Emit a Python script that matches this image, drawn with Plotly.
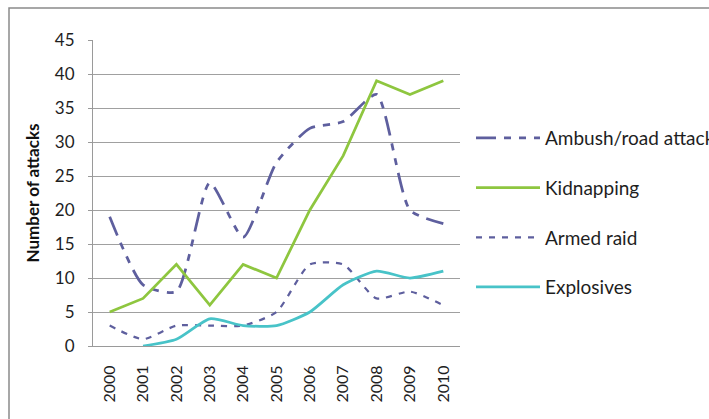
import plotly.graph_objects as go

years = ["2000", "2001", "2002", "2003", "2004", "2005", "2006", "2007", "2008", "2009", "2010"]
ambush = [19, 9, 8, 24, 16, 27, 32, 33, 37, 20, 18]
kidnapping = [5, 7, 12, 6, 12, 10, 20, 28, 39, 37, 39]
armed_raid = [3, 1, 3, 3, 3, 5, 12, 12, 7, 8, 6]
explosives = [None, 0, 1, 4, 3, 3, 5, 9, 11, 10, 11]
y_ticks = [0, 5, 10, 15, 20, 25, 30, 35, 40, 45]

FONT = "Lato"
fig = go.Figure()
fig.add_trace(go.Scatter(x=years, y=ambush, name="Ambush/road attack", mode="lines",
                         line=dict(color="#5E5F9E", width=2.75, dash="20px,8px,7px,8px,7px,8px",
                                   shape="spline", smoothing=0.6),
                         legendgroup="a"))
fig.add_trace(go.Scatter(x=years, y=kidnapping, name="Kidnapping", mode="lines",
                         line=dict(color="#8EC63F", width=2.75), legendgroup="b"))
fig.add_trace(go.Scatter(x=years, y=armed_raid, name="Armed raid", mode="lines",
                         line=dict(color="#5E5F9E", width=2.25, dash="6px,7px",
                                   shape="spline", smoothing=0.6),
                         legendgroup="c"))
fig.add_trace(go.Scatter(x=years, y=explosives, name="Explosives", mode="lines",
                         line=dict(color="#48C3C8", width=2.75, shape="spline", smoothing=0.6),
                         legendgroup="d"))

L, R, T, B = 93, 460, 40, 346
W, H = 709, 419
pw, ph = R - L, B - T

def px(x):
    return (x - L) / pw

def py(y):
    return (B - y) / ph

fig.update_layout(
    width=W, height=H,
    margin=dict(l=L, r=W - R, t=T, b=H - B, autoexpand=False),
    paper_bgcolor="white", plot_bgcolor="white",
    font=dict(family=FONT, size=16, color="#1E1E1E"),
    showlegend=True,
    legend=dict(x=px(471), y=py(119), xanchor="left", yanchor="top",
                font=dict(family=FONT, size=19, color="#1E1E1E"),
                tracegroupgap=22, itemwidth=64, bgcolor="rgba(0,0,0,0)"),
    xaxis=dict(type="category", showgrid=False, tickangle=-90, automargin=False,
               showline=True, linecolor="#9A9A9A", linewidth=1,
               ticks="", range=[-0.5, 10.5], ticklabelstandoff=12,
               tickfont=dict(family=FONT, size=16, color="#1E1E1E")),
    yaxis=dict(range=[0, 45], tickvals=y_ticks, showgrid=True, gridcolor="#A0A0A0",
               gridwidth=1, zeroline=False, showline=True, linecolor="#9A9A9A",
               automargin=False, ticklabelstandoff=10,
               linewidth=1, ticks="outside", ticklen=4, tickcolor="#9A9A9A",
               title=dict(text="<b>Number of attacks</b>", standoff=10,
                          font=dict(family=FONT, size=17, color="#111111")),
               tickfont=dict(family=FONT, size=17, color="#1E1E1E")),
    shapes=[dict(type="rect", xref="paper", yref="paper",
                 x0=px(9), x1=px(730), y0=py(440), y1=py(8),
                 line=dict(color="#8A8A8A", width=1.5), fillcolor="rgba(0,0,0,0)",
                 layer="below")],
)
fig.write_html("out.html", config={"displayModeBar": False},
               post_script="document.body.style.margin='0px';document.body.style.padding='0px';")
